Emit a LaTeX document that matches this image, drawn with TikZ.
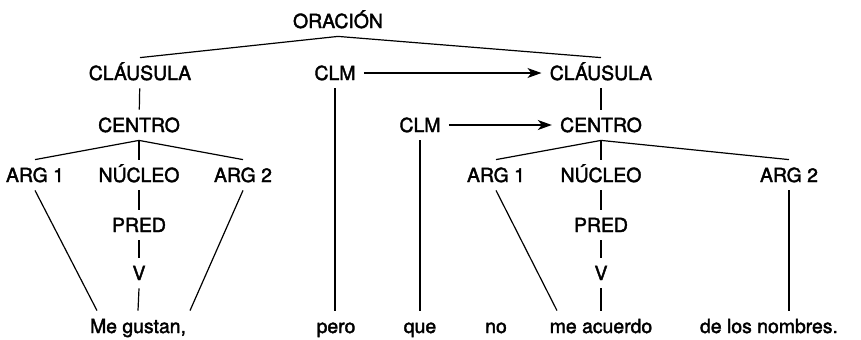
\documentclass[tikz,border=0pt]{standalone}
\usepackage{fontspec}
\setmainfont{TeX Gyre Heros}[BoldFont=TeX Gyre Heros, BoldFeatures={FakeBold=2}]
\usetikzlibrary{arrows.meta}

\tikzset{
  tag/.style={inner sep=4pt, text height=7pt, text depth=0pt, anchor=base},
  link/.style={line width=0.6pt},
  hop/.style={line width=0.6pt, -{Stealth[length=7pt, width=5pt, inset=2pt]}}
}

\begin{document}
\begin{tikzpicture}[x=0.5pt, y=-0.5pt, font=\fontsize{9.7pt}{12pt}\selectfont\bfseries]
          \useasboundingbox (0,0) rectangle (861,339);

          % top levels
          \node[tag] (orac) at (338,28) {ORACIÓN};
          \node[tag] (claA) at (140,80) {CLÁUSULA};
          \node[tag] (clmA) at (335,80) {CLM};
          \node[tag] (claB) at (601,80) {CLÁUSULA};
          \node[tag] (cenA) at (139,132) {CENTRO};
          \node[tag] (clmB) at (420,132) {CLM};
          \node[tag] (cenB) at (601,132) {CENTRO};

          % arguments and nuclei
          \node[tag] (argAa) at (35,182) {ARG 1};
          \node[tag] (nucA) at (139,182) {NÚCLEO};
          \node[tag] (argAb) at (243,182) {ARG 2};
          \node[tag] (argBa) at (496,182) {ARG 1};
          \node[tag] (nucB) at (601,182) {NÚCLEO};
          \node[tag] (argBb) at (789,182) {ARG 2};
          \node[tag] (predA) at (139,232) {PRED};
          \node[tag] (predB) at (601,232) {PRED};
          \node[tag] (verbA) at (139,280) {V};
          \node[tag] (verbB) at (601,280) {V};

          % the words
          \node[tag] (gustan) at (138,333) {Me gustan,};
          \node[tag] (pero) at (336,333) {pero};
          \node[tag] (que) at (420,333) {que};
          \node[tag] (no) at (496,333) {no};
          \node[tag] (acuerdo) at (601,333) {me acuerdo};
          \node[tag] (nombres) at (769,333) {de los nombres.};

          \draw [link] (claA.north) -- (orac.south) -- (claB.north);
          \draw [link] (claA) -- (cenA);
          \draw [link] (claB) -- (cenB);
          \draw [link] (argAa.north) -- (cenA.south) -- (argAb.north);
          \draw [link] (cenA) -- (nucA);
          \draw [link] (argBa.north) -- (cenB.south) -- (argBb.north);
          \draw [link] (cenB) -- (nucB);

          \draw [hop] (clmA) -- (claB);
          \draw [hop] (clmB) -- (cenB);

          \draw [link] (nucA) -- (predA);
          \draw [link] (predA) -- (verbA);
          \draw [link] (verbA.south) -- (gustan.north);
          \draw [link] (nucB) -- (predB);
          \draw [link] (predB) -- (verbB);
          \draw [link] (verbB.south) -- (acuerdo.north);

          \draw [link] (argAa.south) -- ([xshift=-20.5pt]gustan.north);
          \draw [link] (argAb.south) -- ([xshift=26pt]gustan.north);
          \draw [link] (argBa.south) -- ([xshift=-22pt]acuerdo.north);
          \draw [link] (argBb.south) -- (argBb.south |- nombres.north);
          \draw [link] (clmA.south) -- (clmA.south |- pero.north);
          \draw [link] (clmB) -- (que);
        \end{tikzpicture}
\end{document}
